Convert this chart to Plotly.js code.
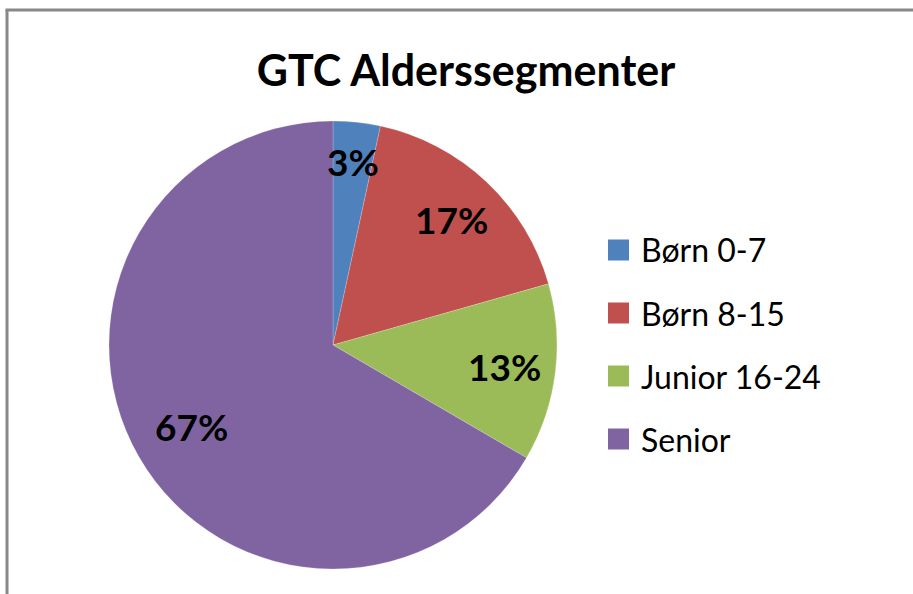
<!DOCTYPE html>
<html>
<head>
<meta charset="utf-8">
<script src="https://cdn.plot.ly/plotly-3.0.1.min.js"></script>
<style>html,body{margin:0;padding:0;background:#fff;}#chart{width:913px;height:594px;}</style>
</head>
<body>
<div id="chart"></div>
<script>
// ---- data ----
const categories = ["Børn 0-7", "Børn 8-15", "Junior 16-24", "Senior"];
const values = [3.4, 17.2, 12.8, 66.6];
const colors = ["#4F81BD", "#C0504D", "#9BBB59", "#8064A2"];
const chartTitle = "GTC Alderssegmenter";

// ---- layout config (pixels) ----
const W = 913, H = 594;
const cx = 333, cy = 345, R = 224;
const labelRadius = [0.825, 0.77, 0.77, 0.73];
const FONT = "Lato, 'Open Sans', sans-serif";

const px = x => x / W;
const py = y => 1 - y / H;

const total = values.reduce((a, b) => a + b, 0);
let cum = 0;
const annotations = [];
values.forEach((v, i) => {
  const mid = (cum + v / 2) / total * 2 * Math.PI;
  cum += v;
  const r = R * labelRadius[i];
  annotations.push({
    x: px(cx + r * Math.sin(mid)), y: py(cy - r * Math.cos(mid)),
    xref: "paper", yref: "paper", showarrow: false,
    text: "<b>" + Math.round(v / total * 100) + "%</b>",
    font: {family: FONT, size: 37, color: "#000"},
    xanchor: "center", yanchor: "middle"
  });
});

// frame + manual legend
const shapes = [
  {type: "line", xref: "paper", yref: "paper", x0: px(7), x1: px(7), y0: py(10), y1: py(H + 20), line: {color: "#888", width: 3}},
  {type: "line", xref: "paper", yref: "paper", x0: px(5.5), x1: px(W + 20), y0: py(10), y1: py(10), line: {color: "#888", width: 3}}
];
const legX = 608, legY0 = 250, legStep = 63, sq = 21;
categories.forEach((c, i) => {
  const yc = legY0 + i * legStep;
  shapes.push({type: "rect", xref: "paper", yref: "paper",
    x0: px(legX), x1: px(legX + sq), y0: py(yc - sq / 2), y1: py(yc + sq / 2),
    fillcolor: colors[i], line: {width: 0}});
  annotations.push({x: px(legX + sq + 10), y: py(yc), xref: "paper", yref: "paper",
    showarrow: false, text: c, xanchor: "left", yanchor: "middle",
    font: {family: FONT, size: 32, color: "#000"}});
});

const trace = {
  type: "pie",
  labels: categories,
  values: values,
  sort: false,
  direction: "clockwise",
  rotation: 0,
  marker: {colors: colors, line: {color: "rgba(255,255,255,0.4)", width: 0.5}},
  textinfo: "none",
  hoverinfo: "label+percent",
  showlegend: false,
  domain: {x: [px(cx - R), px(cx + R)], y: [py(cy + R), py(cy - R)]}
};

const layout = {
  width: W, height: H,
  margin: {l: 0, r: 0, t: 0, b: 0},
  paper_bgcolor: "#fff",
  showlegend: false,
  title: {text: "<b>" + chartTitle + "</b>", x: 466 / W, xanchor: "center", y: py(71), yanchor: "middle",
          font: {family: FONT, size: 43, color: "#000"}},
  annotations: annotations,
  shapes: shapes
};

Plotly.newPlot("chart", [trace], layout, {displayModeBar: false, staticPlot: true});
</script>
</body>
</html>
